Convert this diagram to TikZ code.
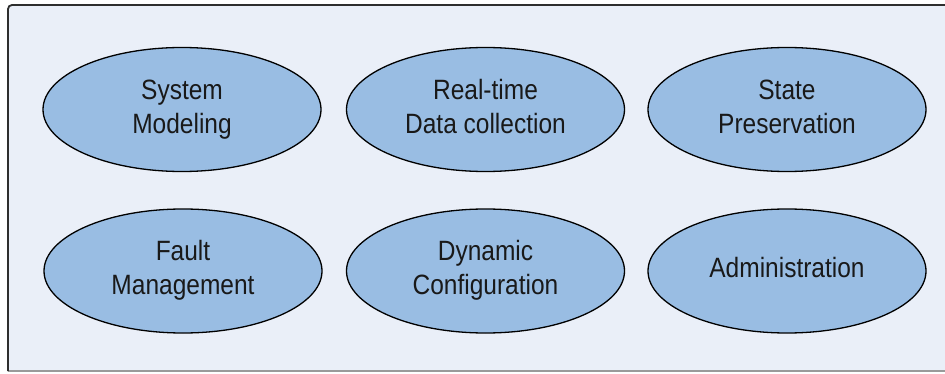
\documentclass[tikz,border=0pt]{standalone}
\usepackage{fontspec}
\setmainfont{Liberation Sans}
\usetikzlibrary{shapes.geometric}
\definecolor{panelbg}{HTML}{EAEFF8}
\definecolor{bubblefill}{HTML}{99BDE3}
\definecolor{frameedge}{HTML}{2E2E2E}
\definecolor{frameshade}{HTML}{9A9A9A}
\newcommand{\bubbletext}[1]{\scalebox{1}[1.14]{\begin{tabular}{@{}c@{}}#1\end{tabular}}}
\tikzset{
  bubble/.style={ellipse, draw=black, line width=1.3pt, fill=bubblefill,
    minimum width=278pt, minimum height=124pt, inner sep=0pt,
    font=\fontsize{24.5}{30}\selectfont, text=black!90},
}
\begin{document}
\begin{tikzpicture}[x=1pt,y=1pt]
  \useasboundingbox (0,0) rectangle (945,373);
  % panel
  \fill[panelbg] (8,2) rectangle (950,368);
  \draw[frameshade, line width=1.6pt] (8,2) -- (950,2);
  \draw[frameedge, line width=1.8pt, rounded corners=4pt] (8,2) -- (8,368) -- (950,368);
  % top row
  \node[bubble] (model) at (182,263.5) {\bubbletext{System\\Modeling}};
  \node[bubble] (collect) at (485.5,263.5) {\bubbletext{Real-time\\Data collection}};
  \node[bubble] (state) at (787,263.5) {\bubbletext{State\\Preservation}};
  % bottom row
  \node[bubble] (fault) at (183,102) {\bubbletext{Fault\\Management}};
  \node[bubble] (config) at (485.5,102) {\bubbletext{Dynamic\\Configuration}};
  \node[bubble] (admin) at (787,102) {\bubbletext{Administration}};
\end{tikzpicture}
\end{document}
